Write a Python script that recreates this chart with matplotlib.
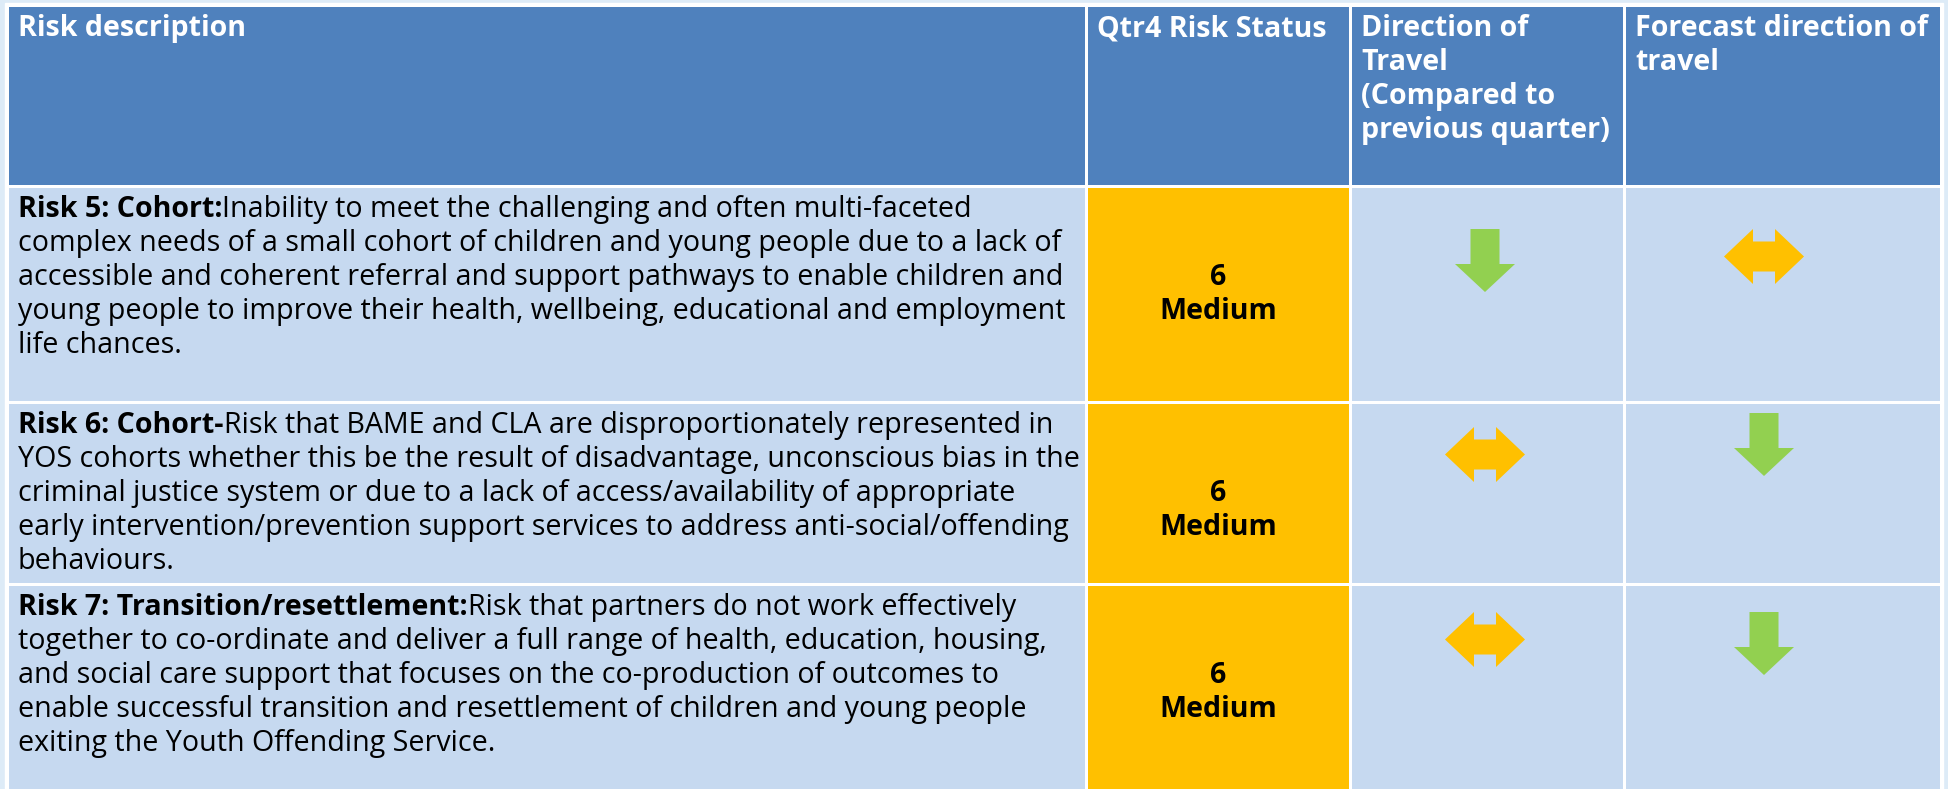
import matplotlib.pyplot as plt
from matplotlib.patches import Rectangle, Polygon

plt.rcParams['font.family'] = ['Open Sans', 'DejaVu Sans']

# ---- data ----
headers = ['Risk description', 'Qtr4 Risk Status',
           'Direction of\nTravel\n(Compared to\nprevious quarter)',
           'Forecast direction of\ntravel']
risk_titles = ['Risk 5: Cohort:', 'Risk 6: Cohort-', 'Risk 7: Transition/resettlement:']
risk_lines = [
    ['Inability to meet the challenging and often multi-faceted',
     'complex needs of a small cohort of children and young people due to a lack of',
     'accessible and coherent referral and support pathways to enable children and',
     'young people to improve their health, wellbeing, educational and employment',
     'life chances.'],
    ['Risk that BAME and CLA are disproportionately represented in',
     'YOS cohorts whether this be the result of disadvantage, unconscious bias in the',
     'criminal justice system or due to a lack of access/availability of appropriate',
     'early intervention/prevention support services to address anti-social/offending',
     'behaviours.'],
    ['Risk that partners do not work effectively',
     'together to co-ordinate and deliver a full range of health, education, housing,',
     'and social care support that focuses on the co-production of outcomes to',
     'enable successful transition and resettlement of children and young people',
     'exiting the Youth Offending Service.'],
]
scores = [6, 6, 6]
levels = ['Medium', 'Medium', 'Medium']
direction = ['down', 'both', 'both']
forecast = ['both', 'down', 'down']

# ---- layout ----
W, H = 1948, 789
col_edges = [7, 1086, 1350, 1624, 1941]
row_edges = [5, 186, 402, 584, 800]
arrow_cx = [1485, 1764]
dir_top = [229, 427, 612]
fc_top = [229, 413, 612]
pad_x = 11
base_off = 31
pitch = 34
fs = 20.6

header_c = '#4F81BD'
body_c = '#C6D9F0'
status_c = '#FFC000'
green = '#92D050'
amber = '#FFC000'

fig = plt.figure(figsize=(W / 100, H / 100), dpi=100, facecolor='#DDEBF7')
ax = fig.add_axes([0, 0, 1, 1])
ax.set_xlim(0, W)
ax.set_ylim(H, 0)
ax.axis('off')

ax.add_patch(Rectangle((col_edges[0] - 2, row_edges[0] - 2),
                       col_edges[-1] - col_edges[0] + 4, H, color='white', zorder=0))


def cell(c, r, color):
    g = 1.5
    x0, x1 = col_edges[c] + g, col_edges[c + 1] - g
    y0, y1 = row_edges[r] + g, row_edges[r + 1] - g
    p = Rectangle((x0, y0), x1 - x0, y1 - y0, color=color, lw=0, zorder=1)
    ax.add_patch(p)
    return p


def down_arrow(cx, top, color):
    sw, hw, sl, tl = 14.5, 30, 35, 63
    pts = [(cx - sw, top), (cx + sw, top), (cx + sw, top + sl), (cx + hw, top + sl),
           (cx, top + tl), (cx - hw, top + sl), (cx - sw, top + sl)]
    ax.add_patch(Polygon(pts, closed=True, color=color, lw=0, zorder=3))


def both_arrow(cx, top, color):
    hw, hl, h, sh = 40, 29, 55, 15
    cy = top + h / 2
    pts = [(cx - hw, cy), (cx - hw + hl, top), (cx - hw + hl, cy - sh),
           (cx + hw - hl, cy - sh), (cx + hw - hl, top), (cx + hw, cy),
           (cx + hw - hl, top + h), (cx + hw - hl, cy + sh),
           (cx - hw + hl, cy + sh), (cx - hw + hl, top + h)]
    ax.add_patch(Polygon(pts, closed=True, color=color, lw=0, zorder=3))


def arrow(kind, cx, top):
    if kind == 'down':
        down_arrow(cx, top, green)
    else:
        both_arrow(cx, top, amber)


# header
for c, txt in enumerate(headers):
    cell(c, 0, header_c)
    for i, line in enumerate(txt.split('\n')):
        ax.text(col_edges[c] + pad_x, row_edges[0] + base_off + i * pitch, line,
                color='white', fontsize=fs, fontweight='bold', va='baseline', zorder=4)

renderer = fig.canvas.get_renderer()
inv = ax.transData.inverted()

for r in range(3):
    top = row_edges[r + 1]
    clip = cell(0, r + 1, body_c)
    cell(1, r + 1, status_c)
    cell(2, r + 1, body_c)
    cell(3, r + 1, body_c)

    x0 = col_edges[0] + pad_x
    y0 = top + base_off
    t = ax.text(x0, y0, risk_titles[r], fontsize=fs, fontweight='bold',
                va='baseline', zorder=4)
    t.set_clip_path(clip)
    bb = t.get_window_extent(renderer)
    xr = inv.transform((bb.x1, bb.y0))[0]
    for i, line in enumerate(risk_lines[r]):
        xx = xr if i == 0 else x0
        tt = ax.text(xx, y0 + i * pitch, line, fontsize=fs, va='baseline', zorder=4)
        tt.set_clip_path(clip)

    cx = (col_edges[1] + col_edges[2]) / 2
    ax.text(cx, top + 99, str(scores[r]), fontsize=fs, fontweight='bold',
            ha='center', va='baseline', zorder=4)
    ax.text(cx, top + 99 + pitch, levels[r], fontsize=fs, fontweight='bold',
            ha='center', va='baseline', zorder=4)

    arrow(direction[r], arrow_cx[0], dir_top[r])
    arrow(forecast[r], arrow_cx[1], fc_top[r])

fig.savefig('out.png', dpi=100, facecolor=fig.get_facecolor())
